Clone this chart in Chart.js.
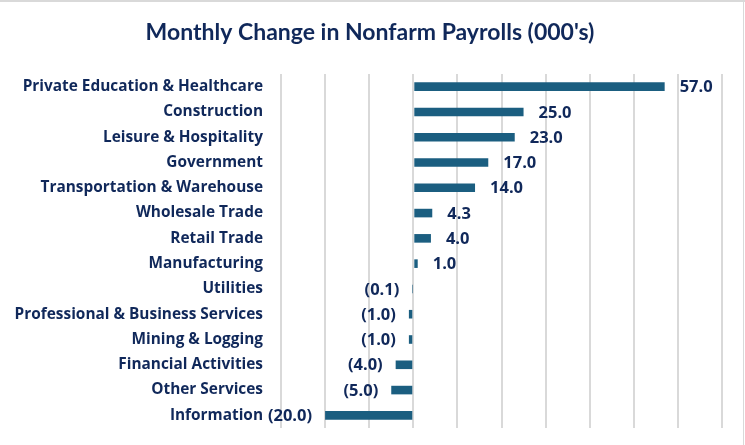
<!DOCTYPE html>
<html><head><meta charset="utf-8">
<script src="https://cdn.jsdelivr.net/npm/chart.js@4.4.1/dist/chart.umd.min.js"></script>
<style>
html,body{margin:0;padding:0;background:#fff;}
#wrap{position:relative;width:745px;height:445px;}
#wrap:before{content:"";position:absolute;left:0;top:0;width:745px;height:2px;background:#d9d9d9;z-index:2;}
#wrap:after{content:"";position:absolute;right:1px;top:0;width:1px;height:445px;background:#d9d9d9;z-index:2;}
canvas{display:block;}
</style>
</head>
<body>
<div id="wrap"><canvas id="c" width="745" height="445"></canvas></div>
<script>
const titleText = "Monthly Change in Nonfarm Payrolls (000's)";
const categories = [
  "Private Education & Healthcare",
  "Construction",
  "Leisure & Hospitality",
  "Government",
  "Transportation & Warehouse",
  "Wholesale Trade",
  "Retail Trade",
  "Manufacturing",
  "Utilities",
  "Professional & Business Services",
  "Mining & Logging",
  "Financial Activities",
  "Other Services",
  "Information"
];
const values = [57.0, 25.0, 23.0, 17.0, 14.0, 4.3, 4.0, 1.0, -0.1, -1.0, -1.0, -4.0, -5.0, -20.0];
const axisMin = -30, axisMax = 70, axisStep = 10;

const navy = '#10285a';
const barColor = '#1b5e80';

function fmt(v){
  const s = Math.abs(v).toFixed(1);
  return v < 0 ? '(' + s + ')' : s;
}

const titlePlugin = {
  id: 'titleDraw',
  afterDraw(chart){
    const ctx = chart.ctx;
    ctx.save();
    ctx.font = 'bold 23px Lato';
    ctx.fillStyle = navy;
    ctx.textAlign = 'center';
    ctx.textBaseline = 'alphabetic';
    ctx.fillText(titleText, 370, 40);
    ctx.restore();
  }
};

const valueLabels = {
  id: 'valueLabels',
  afterDatasetsDraw(chart){
    const ctx = chart.ctx;
    const meta = chart.getDatasetMeta(0);
    ctx.save();
    ctx.font = 'bold 16.5px "Open Sans"';
    ctx.fillStyle = navy;
    ctx.textBaseline = 'middle';
    meta.data.forEach((bar, i) => {
      const v = values[i];
      if (v >= 0){
        ctx.textAlign = 'left';
        ctx.fillText(fmt(v), bar.x + 15, bar.y + 1);
      } else {
        ctx.textAlign = 'right';
        ctx.fillText(fmt(v), Math.min(bar.x, bar.base) - 13, bar.y + 1);
      }
    });
    ctx.restore();
  }
};

new Chart(document.getElementById('c'), {
  type: 'bar',
  data: {
    labels: categories,
    datasets: [{
      data: values,
      backgroundColor: barColor,
      borderWidth: 0,
      categoryPercentage: 1.0,
      barPercentage: 0.34
    }]
  },
  options: {
    indexAxis: 'y',
    responsive: false,
    animation: false,
    devicePixelRatio: 1,
    layout: { padding: { left: 0, right: 23, top: 74, bottom: 17 } },
    plugins: { legend: { display: false }, tooltip: { enabled: false }, title: { display: false } },
    scales: {
      x: {
        min: axisMin, max: axisMax,
        ticks: { display: false, stepSize: axisStep },
        grid: { color: '#d9d9d9', lineWidth: 2, drawTicks: false },
        border: { display: false }
      },
      y: {
        afterFit(scale){ scale.width = 281; scale.paddingTop = 0; scale.paddingBottom = 0; },
        ticks: {
          color: navy,
          padding: 18,
          font: { family: '"Open Sans"', weight: 'bold', size: 15.4 }
        },
        grid: { display: false, drawTicks: false },
        border: { display: false }
      }
    }
  },
  plugins: [titlePlugin, valueLabels]
});
</script>
</body></html>
